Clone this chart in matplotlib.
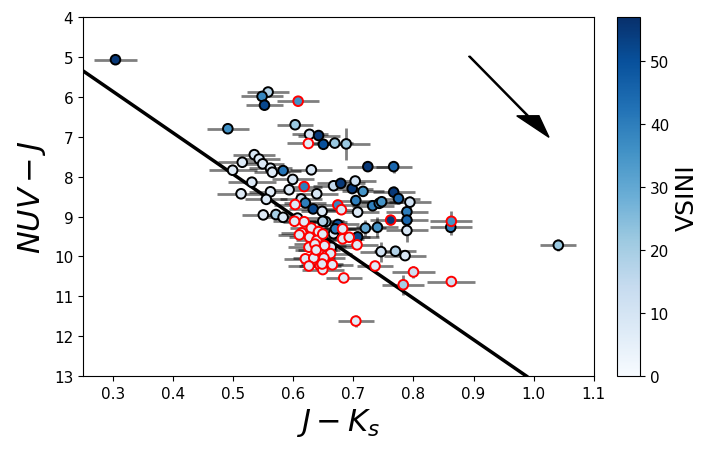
import matplotlib
matplotlib.use("Agg")
import matplotlib.pyplot as plt
import numpy as np

# ---- main sample (black edge) ----
jk = [0.304, 0.558, 0.548, 0.552, 0.491, 0.603, 0.627, 0.642, 0.650, 0.669,
      0.688, 0.535, 0.543, 0.549, 0.562, 0.565, 0.515, 0.499, 0.583, 0.630,
      0.599, 0.531, 0.562, 0.593, 0.513, 0.555, 0.550, 0.571, 0.583, 0.607,
      0.639, 0.667, 0.679, 0.698, 0.703, 0.716, 0.613, 0.620, 0.633, 0.648,
      0.654, 0.667, 0.674, 0.704, 0.707, 0.720, 0.707, 0.732, 0.743, 0.747,
      0.746, 0.724, 0.767, 0.767, 0.775, 0.794, 0.789, 0.789, 0.789, 0.862,
      0.740, 0.770, 0.786, 1.041, 0.649, 0.663, 0.670]
nuvj = [5.07, 5.88, 5.99, 6.21, 6.80, 6.70, 6.94, 6.97, 7.19, 7.16,
        7.18, 7.45, 7.56, 7.68, 7.79, 7.89, 7.64, 7.84, 7.85, 7.83,
        8.07, 8.14, 8.38, 8.33, 8.43, 8.57, 8.96, 8.95, 9.02, 9.04,
        8.43, 8.23, 8.17, 8.30, 8.11, 8.37, 8.56, 8.66, 8.81, 8.87,
        9.13, 9.43, 9.20, 8.60, 8.89, 9.29, 9.51, 8.73, 8.67, 8.63,
        9.88, 7.75, 7.75, 8.39, 8.55, 8.64, 8.88, 9.09, 9.35, 9.27,
        9.27, 9.87, 9.98, 9.72, 9.12, 9.77, 9.31]
vsini = [55, 18, 38, 52, 36, 22, 11, 55, 50, 22,
         22, 9, 8, 8, 8, 7, 8, 7, 42, 9,
         9, 8, 7, 8, 7, 8, 7, 20, 8, 9,
         9, 15, 55, 55, 11, 35, 11, 40, 52, 9,
         20, 8, 50, 40, 8, 30, 52, 40, 38, 35,
         11, 55, 45, 55, 45, 11, 40, 45, 9, 40,
         35, 18, 9, 22, 18, 8, 40]
xerr = [0.035, 0.035, 0.035, 0.03, 0.035, 0.03, 0.03, 0.035, 0.03, 0.03,
        0.04, 0.035, 0.035, 0.035, 0.035, 0.03, 0.04, 0.04, 0.03, 0.035,
        0.035, 0.04, 0.035, 0.04, 0.04, 0.035, 0.035, 0.03, 0.035, 0.035,
        0.035, 0.035, 0.04, 0.035, 0.035, 0.035, 0.035, 0.035, 0.04, 0.035,
        0.035, 0.035, 0.035, 0.035, 0.035, 0.035, 0.035, 0.035, 0.035, 0.035,
        0.035, 0.035, 0.03, 0.035, 0.035, 0.035, 0.035, 0.035, 0.035, 0.035,
        0.035, 0.035, 0.035, 0.03, 0.035, 0.04, 0.035]
yerr = [0.05, 0.05, 0.05, 0.05, 0.05, 0.05, 0.05, 0.05, 0.05, 0.05,
        0.4, 0.05, 0.05, 0.05, 0.05, 0.05, 0.05, 0.05, 0.05, 0.05,
        0.05, 0.05, 0.05, 0.05, 0.05, 0.05, 0.05, 0.05, 0.05, 0.05,
        0.05, 0.1, 0.05, 0.05, 0.05, 0.05, 0.05, 0.05, 0.05, 0.05,
        0.15, 0.15, 0.05, 0.1, 0.1, 0.2, 0.1, 0.1, 0.05, 0.1,
        0.25, 0.05, 0.15, 0.15, 0.1, 0.15, 0.2, 0.1, 0.3, 0.2,
        0.25, 0.1, 0.1, 0.15, 0.05, 0.1, 0.05]

# ---- flagged sample (red edge) ----
jk_f = [0.608, 0.625, 0.618, 0.603, 0.674, 0.680, 0.762, 0.863, 0.618, 0.614,
        0.630, 0.642, 0.627, 0.639, 0.626, 0.642, 0.652, 0.662, 0.620, 0.634,
        0.651, 0.665, 0.626, 0.645, 0.649, 0.682, 0.693, 0.706, 0.684, 0.736,
        0.800, 0.783, 0.863, 0.704, 0.682, 0.602, 0.610, 0.649, 0.636, 0.638,
        0.648]
nuvj_f = [6.11, 7.17, 8.25, 8.70, 8.71, 8.83, 9.09, 9.12, 9.13, 9.41,
          9.29, 9.38, 9.52, 9.60, 9.77, 9.85, 9.73, 9.93, 10.06, 10.04,
          10.04, 10.21, 10.24, 10.24, 10.33, 9.56, 9.52, 9.71, 10.54, 10.24,
          10.39, 10.71, 10.63, 11.62, 9.31, 9.12, 9.46, 9.44, 9.69, 9.84,
          10.19]
vsini_f = [36, 6, 40, 8, 38, 8, 55, 35, 7, 7,
           7, 7, 7, 7, 7, 7, 7, 7, 7, 7,
           7, 7, 7, 7, 7, 7, 7, 7, 7, 7,
           12, 20, 12, 7, 7, 7, 7, 7, 7, 7,
           7]
xerr_f = [0.035, 0.035, 0.03, 0.035, 0.035, 0.035, 0.035, 0.035, 0.035, 0.035,
          0.035, 0.035, 0.035, 0.035, 0.035, 0.035, 0.035, 0.035, 0.035, 0.035,
          0.035, 0.035, 0.035, 0.035, 0.035, 0.035, 0.035, 0.035, 0.03, 0.03,
          0.035, 0.035, 0.04, 0.03, 0.035, 0.035, 0.035, 0.035, 0.035, 0.035,
          0.035]
yerr_f = [0.05, 0.05, 0.05, 0.05, 0.05, 0.05, 0.05, 0.25, 0.05, 0.05,
          0.05, 0.05, 0.05, 0.05, 0.05, 0.05, 0.05, 0.05, 0.05, 0.05,
          0.05, 0.05, 0.05, 0.05, 0.05, 0.05, 0.05, 0.05, 0.05, 0.1,
          0.15, 0.25, 0.05, 0.15, 0.05, 0.05, 0.05, 0.05, 0.05, 0.05,
          0.05]

# dividing line and reddening arrow
line_x = [0.25, 0.988]
line_y = [5.35, 13.0]
arrow_x, arrow_y = 0.893, 4.985
arrow_dx, arrow_dy = 0.1325, 2.03

vmin, vmax = 0, 57

fig = plt.figure(figsize=(7.06, 4.56), dpi=100)
ax = fig.add_axes([0.1176, 0.173, 0.7234, 0.7875])
cax = fig.add_axes([0.874, 0.173, 0.0326, 0.7875])

ax.errorbar(jk, nuvj, xerr=xerr, yerr=yerr, fmt='none', ecolor='k',
            alpha=0.5, elinewidth=2, zorder=1)
ax.errorbar(jk_f, nuvj_f, xerr=xerr_f, yerr=yerr_f, fmt='none', ecolor='k',
            alpha=0.5, elinewidth=2, zorder=1)

sc = ax.scatter(jk, nuvj, c=vsini, cmap='Blues', vmin=vmin, vmax=vmax,
                s=48, edgecolors='k', linewidths=1.4, zorder=3)
ax.scatter(jk_f, nuvj_f, c=vsini_f, cmap='Blues', vmin=vmin, vmax=vmax,
           s=48, edgecolors='red', linewidths=1.4, zorder=4)

ax.plot(line_x, line_y, color='k', lw=2.5, zorder=2)
ax.arrow(arrow_x, arrow_y, arrow_dx, arrow_dy, width=0.0025,
         head_width=0.037, head_length=0.54, length_includes_head=True,
         color='k', zorder=5)

ax.set_xlim(0.25, 1.1)
ax.set_ylim(13, 4)
ax.set_xticks(np.arange(0.3, 1.11, 0.1))
ax.set_yticks(np.arange(4, 13.1, 1))
ax.tick_params(labelsize=11)
ax.set_xlabel('$J-K_s$', fontsize=22)
ax.set_ylabel('$NUV-J$', fontsize=22)

cb = fig.colorbar(sc, cax=cax)
cb.set_label('VSINI', fontsize=18)
cb.ax.tick_params(labelsize=11)
cb.set_ticks([0, 10, 20, 30, 40, 50])

fig.savefig('out.png', dpi=100)
